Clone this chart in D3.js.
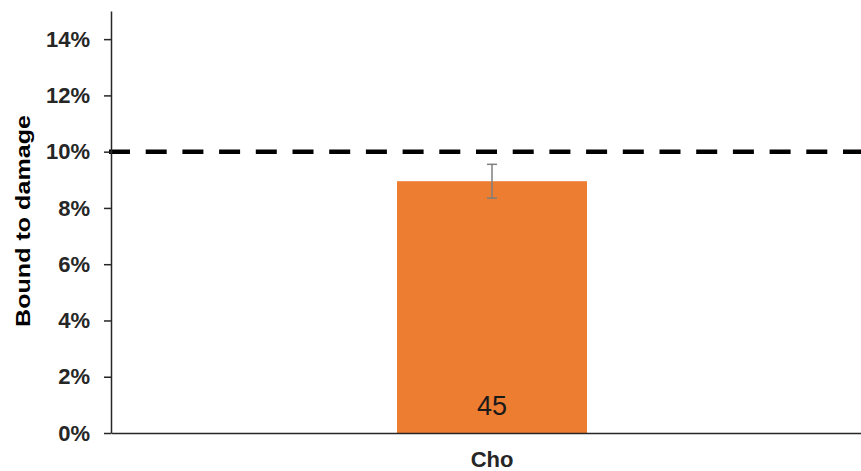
<!DOCTYPE html>
<html><head><meta charset="utf-8">
<script src="https://cdn.jsdelivr.net/npm/d3@7"></script>
<style>body{margin:0;background:#fff}svg{display:block}</style>
</head><body>
<svg id="c" width="861" height="471"></svg>
<script>
const categories = ["Cho"];
const values = [0.0895];
const errors = [0.006];
const counts = ["45"];
const refValue = [0.10];
const yTicks = [0, 0.02, 0.04, 0.06, 0.08, 0.10, 0.12, 0.14];
const yTitle = "Bound to damage";

const W = 861, H = 471;
const m = {left: 111, right: -12, top: 11, bottom: 38};
const svg = d3.select("#c");
const x = d3.scaleBand().domain(categories).range([m.left, W - m.right]).paddingInner(0).paddingOuter(0);
const y = d3.scaleLinear().domain([0, 0.15]).range([H - m.bottom, m.top]);
const font = "'Liberation Sans', Arial, sans-serif";

const bw = 190;
categories.forEach((c, i) => {
  const cx = x(c) + x.bandwidth() / 2;
  svg.append("rect").attr("x", cx - bw / 2).attr("y", y(values[i]))
    .attr("width", bw).attr("height", y(0) - y(values[i])).attr("fill", "#ED7D31");
  const eg = svg.append("g").attr("stroke", "#7f7f7f").attr("stroke-width", 1.5);
  eg.append("line").attr("x1", cx).attr("x2", cx).attr("y1", y(values[i] + errors[i])).attr("y2", y(values[i] - errors[i]));
  eg.append("line").attr("x1", cx - 5).attr("x2", cx + 5).attr("y1", y(values[i] + errors[i])).attr("y2", y(values[i] + errors[i]));
  eg.append("line").attr("x1", cx - 5).attr("x2", cx + 5).attr("y1", y(values[i] - errors[i])).attr("y2", y(values[i] - errors[i]));
  svg.append("text").attr("x", cx).attr("y", y(0) - 18).attr("text-anchor", "middle")
    .attr("font-family", font).attr("font-size", 27).attr("fill", "#1a1a1a").text(counts[i]);
});

// reference line
svg.append("line").attr("x1", 109).attr("x2", W).attr("y1", y(refValue[0])).attr("y2", y(refValue[0]))
  .attr("stroke", "#000").attr("stroke-width", 4.5).attr("stroke-dasharray", "21,15.7");

// y axis
const ya = svg.append("g").attr("transform", `translate(${m.left},0)`)
  .call(d3.axisLeft(y).tickValues(yTicks).tickFormat(d3.format(".0%")).tickSize(7).tickSizeOuter(0));
ya.select(".domain").attr("stroke", "#262626").attr("stroke-width", 1.5);
ya.selectAll(".tick line").attr("stroke", "#262626").attr("stroke-width", 1.5);
ya.selectAll(".tick text").attr("font-family", font).attr("font-size", 22).attr("font-weight", "bold")
  .attr("fill", "#262626").attr("x", -21).attr("dy", "0.33em");

// x axis
const xa = svg.append("g").attr("transform", `translate(0,${y(0)})`)
  .call(d3.axisBottom(x).tickSize(0).tickSizeOuter(0));
xa.select(".domain").attr("stroke", "#262626").attr("stroke-width", 1.5);
xa.selectAll(".tick text").attr("font-family", font).attr("font-size", 22).attr("font-weight", "bold")
  .attr("fill", "#262626").attr("dy", "0").attr("y", 34);

// y title
svg.append("text").attr("transform", `translate(30,${221}) rotate(-90)`).attr("text-anchor", "middle")
  .attr("font-family", font).attr("font-size", 21).attr("font-weight", "bold").attr("fill", "#000")
  .attr("textLength", 212).attr("lengthAdjust", "spacingAndGlyphs")
  .text(yTitle);
</script>
</body></html>
